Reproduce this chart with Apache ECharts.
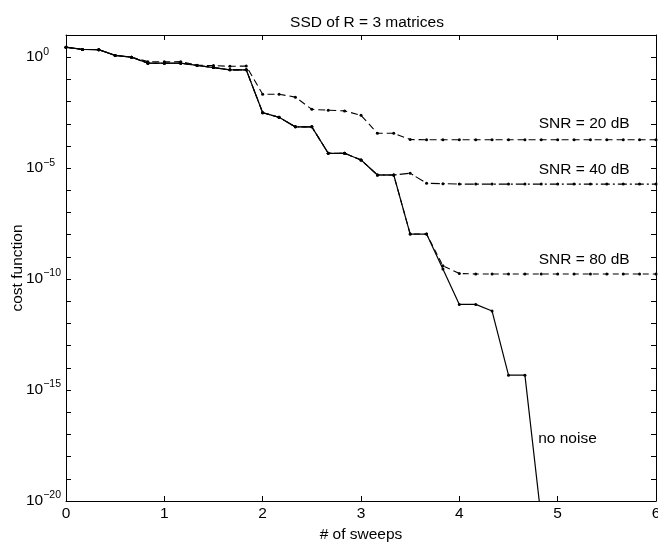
<!DOCTYPE html>
<html>
<head>
<meta charset="UTF-8">
<title>SSD of R = 3 matrices</title>
<script src="https://cdn.jsdelivr.net/npm/echarts@6/dist/echarts.min.js"></script>
<style type="text/css">
    html,body{margin:0;padding:0;background:#fff;}
    #chart{width:658px;height:542px;}
</style>
</head>
<body>
<div id="chart"></div>
<script>
// sweeps, one point every 1/6 sweep
var sweeps = [0, 0.167, 0.333, 0.5, 0.667, 0.833, 1, 1.167, 1.333, 1.5, 1.667, 1.833,
              2, 2.167, 2.333, 2.5, 2.667, 2.833, 3, 3.167, 3.333, 3.5, 3.667, 3.833,
              4, 4.167, 4.333, 4.5, 4.667, 4.833, 5, 5.167, 5.333, 5.5, 5.667, 5.833, 6];

// cost function, read as exponent of 10 (cost = 10^v)
var noNoise = [0.45, 0.35, 0.34, 0.08, 0.0, -0.27, -0.27, -0.27, -0.37, -0.47, -0.57, -0.57,
               -2.5, -2.71, -3.14, -3.14, -4.33, -4.33, -4.63, -5.31, -5.31, -7.97, -7.97, -9.55,
               -11.14, -11.14, -11.44, -14.33, -14.33, -20.8];
var snr20 = [0.45, 0.35, 0.34, 0.08, 0.0, -0.2, -0.21, -0.2, -0.36, -0.38, -0.41, -0.4,
             -1.67, -1.67, -1.8, -2.35, -2.39, -2.42, -2.62, -3.43, -3.43, -3.71, -3.72, -3.72,
             -3.72, -3.72, -3.72, -3.72, -3.72, -3.72, -3.72, -3.72, -3.72, -3.72, -3.72, -3.72, -3.72];
var snr40 = [0.45, 0.35, 0.34, 0.08, 0.0, -0.27, -0.27, -0.27, -0.37, -0.47, -0.57, -0.57,
             -2.5, -2.71, -3.14, -3.14, -4.33, -4.33, -4.63, -5.31, -5.31, -5.23, -5.68, -5.7,
             -5.72, -5.72, -5.72, -5.72, -5.72, -5.72, -5.72, -5.72, -5.72, -5.72, -5.72, -5.72, -5.72];
var snr80 = [0.45, 0.35, 0.34, 0.08, 0.0, -0.27, -0.27, -0.27, -0.37, -0.47, -0.57, -0.57,
             -2.5, -2.71, -3.14, -3.14, -4.33, -4.33, -4.63, -5.31, -5.31, -7.97, -7.97, -9.4,
             -9.75, -9.77, -9.77, -9.77, -9.77, -9.77, -9.77, -9.77, -9.77, -9.77, -9.77, -9.77, -9.77];

var xTicks = [0, 1, 2, 3, 4, 5, 6];
var yDecadeLabels = [0, -5, -10, -15, -20];

function pairs(ys){
    var out = [];
    for(var i = 0; i < ys.length; i++){
        out.push([sweeps[i], ys[i]]);
    }
    return out;
}

var FONT = 'Liberation Sans, Arial, Helvetica, sans-serif';
var FS = 15.5;

var chart = echarts.init(document.getElementById('chart'));

var tickStyle = { inside: true, length: 5, lineStyle: { color: '#000', width: 1 } };
var lineAxis = { show: true, onZero: false, lineStyle: { color: '#000', width: 1 } };

function noteLabel(text, x, y){
    return {
        coord: [x, y],
        symbol: 'circle',
        symbolSize: 0,
        label: { show: true, position: 'inside', formatter: text,
                 color: '#000', fontSize: FS, fontFamily: FONT }
    };
}

function dashedSeries(name, ys, dash, notes){
    return {
        name: name,
        type: 'line',
        data: pairs(ys),
        symbol: 'circle',
        symbolSize: 3,
        itemStyle: { color: '#000' },
        lineStyle: { color: '#000', width: 1.1, type: dash },
        z: 2,
        markPoint: { silent: true, data: notes }
    };
}

var option = {
    animation: false,
    backgroundColor: '#fff',
    title: {
        text: 'SSD of R = 3 matrices',
        left: 362,
        textAlign: 'center',
        top: 10,
        textStyle: { color: '#000', fontSize: FS, fontWeight: 'normal', fontFamily: FONT }
    },
    grid: { left: 66, right: 2, top: 35, bottom: 41, containLabel: false, outerBoundsMode: 'none' },
    xAxis: [
        {
            type: 'value', min: 0, max: 6, interval: 1,
            name: '# of sweeps', nameLocation: 'middle', nameGap: 26, nameMoveOverlap: false,
            nameTextStyle: { color: '#000', fontSize: FS, fontFamily: FONT },
            axisLine: lineAxis, axisTick: tickStyle,
            axisLabel: { color: '#000', fontSize: FS, fontFamily: FONT, margin: 5,
                         formatter: function(v){ return xTicks.indexOf(v) > -1 ? String(v) : ''; } },
            splitLine: { show: false }
        },
        {
            type: 'value', min: 0, max: 6, interval: 1, position: 'top',
            axisLine: lineAxis, axisTick: tickStyle,
            axisLabel: { show: false }, splitLine: { show: false }
        }
    ],
    yAxis: [
        {
            type: 'value', min: -20, max: 1, interval: 1,
            name: 'cost function', nameLocation: 'middle', nameGap: 40, nameRotate: 90,
            nameMoveOverlap: false,
            nameTextStyle: { color: '#000', fontSize: FS, fontFamily: FONT },
            axisLine: lineAxis, axisTick: tickStyle,
            axisLabel: {
                align: 'left', margin: 40, color: '#000',
                formatter: function(v){
                    if(yDecadeLabels.indexOf(v) < 0) return '';
                    var e = v < 0 ? '\u2212' + (-v) : String(v);
                    return '{b|10}{s|' + e + '}';
                },
                rich: {
                    b: { fontSize: FS, fontFamily: FONT, color: '#000' },
                    s: { fontSize: 10.5, fontFamily: FONT, color: '#000', padding: [0, 0, 11, 0] }
                }
            },
            splitLine: { show: false }
        },
        {
            type: 'value', min: -20, max: 1, interval: 1, position: 'right',
            axisLine: lineAxis, axisTick: tickStyle,
            axisLabel: { show: false }, splitLine: { show: false }
        }
    ],
    series: [
        dashedSeries('SNR = 20 dB', snr20, [7, 4], [noteLabel('SNR = 20 dB', 5.27, -3.0)]),
        dashedSeries('SNR = 40 dB', snr40, [9, 3, 2, 3], [noteLabel('SNR = 40 dB', 5.27, -5.08)]),
        dashedSeries('SNR = 80 dB', snr80, [6, 4], [noteLabel('SNR = 80 dB', 5.27, -9.14)]),
        {
            name: 'no noise',
            type: 'line',
            data: pairs(noNoise),
            symbol: 'circle',
            symbolSize: 3,
            itemStyle: { color: '#000' },
            lineStyle: { color: '#000', width: 1.2 },
            clip: true,
            z: 3,
            markPoint: { silent: true, data: [noteLabel('no noise', 5.1, -17.2)] }
        }
    ]
};

chart.setOption(option);
</script>
</body>
</html>
